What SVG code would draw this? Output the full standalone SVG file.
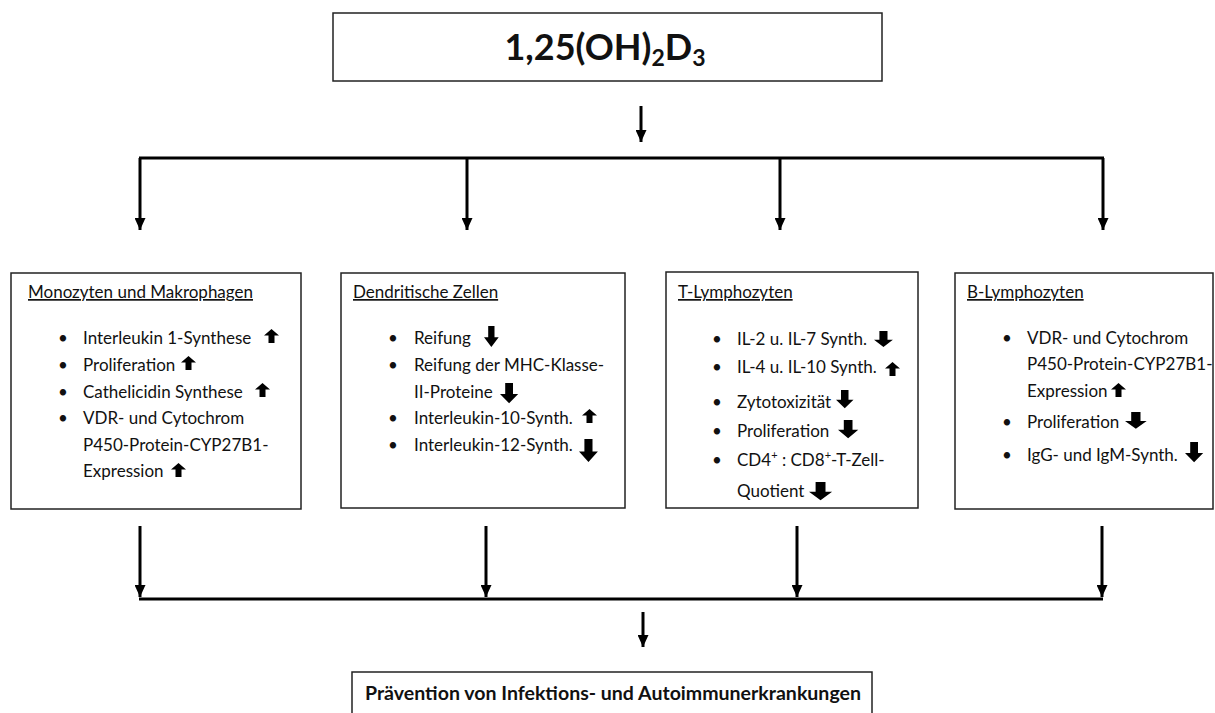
<svg xmlns="http://www.w3.org/2000/svg" width="1215" height="713" viewBox="0 0 1215 713">
<defs>
<style>
.box{fill:#fff;stroke:#222;stroke-width:1.5}
.t{font-family:Lato,"Liberation Sans",sans-serif;font-size:17px;fill:#111}
.h{text-decoration:underline}
.b{font-family:Lato,"Liberation Sans",sans-serif;font-weight:bold;fill:#111}
.c{stroke:#000;stroke-width:3;fill:none}
.i{fill:#000}
</style>
<marker id="ah" viewBox="0 0 12 11" refX="12" refY="5.5" markerWidth="12" markerHeight="11" markerUnits="userSpaceOnUse" orient="auto"><path d="M0,0 L12,5.5 L0,11 z" fill="#000"/></marker>
<path id="up" d="M7.5,0 L15,6.5 L10.5,6.5 L10.5,14 L4.5,14 L4.5,6.5 L0,6.5 Z"/>
<path id="dn" d="M4,0 L10,0 L10,7.5 L14,7.5 L7,14 L0,7.5 L4,7.5 Z"/>
</defs>
<rect width="1215" height="713" fill="#fff"/>

<g id="top">
<rect class="box" x="333" y="13" width="549" height="68"/>
<text class="b" x="605" y="60" font-size="36" text-anchor="middle">1,25(OH)<tspan font-size="23" dy="6">2</tspan><tspan dy="-6">D</tspan><tspan font-size="23" dy="6">3</tspan></text>
</g>

<g id="connectors">
<line class="c" x1="641" y1="106" x2="641" y2="142" marker-end="url(#ah)"/>
<line class="c" x1="139" y1="158" x2="1104" y2="158"/>
<line class="c" x1="140" y1="158" x2="140" y2="230" marker-end="url(#ah)"/>
<line class="c" x1="467" y1="158" x2="467" y2="230" marker-end="url(#ah)"/>
<line class="c" x1="780" y1="158" x2="780" y2="230" marker-end="url(#ah)"/>
<line class="c" x1="1103" y1="158" x2="1103" y2="230" marker-end="url(#ah)"/>
<line class="c" x1="140" y1="526" x2="140" y2="597" marker-end="url(#ah)"/>
<line class="c" x1="486" y1="526" x2="486" y2="597" marker-end="url(#ah)"/>
<line class="c" x1="797" y1="526" x2="797" y2="597" marker-end="url(#ah)"/>
<line class="c" x1="1102" y1="526" x2="1102" y2="597" marker-end="url(#ah)"/>
<line class="c" x1="139" y1="599" x2="1103" y2="599"/>
<line class="c" x1="643" y1="612" x2="643" y2="647" marker-end="url(#ah)"/>
</g>

<g id="monozyten">
<rect class="box" x="11" y="273" width="290" height="236"/>
<text class="t h" x="28" y="298">Monozyten und Makrophagen</text>
<g class="t">
<text x="58" y="344">•</text><text x="83" y="344">Interleukin 1-Synthese</text>
<text x="58" y="371">•</text><text x="83" y="371">Proliferation</text>
<text x="58" y="398">•</text><text x="83" y="398">Cathelicidin Synthese</text>
<text x="58" y="424">•</text><text x="83" y="424">VDR- und Cytochrom</text>
<text x="83" y="451">P450-Protein-CYP27B1-</text>
<text x="83" y="477">Expression</text>
</g>
<use href="#up" class="i" transform="translate(264,329)"/>
<use href="#up" class="i" transform="translate(181,356)"/>
<use href="#up" class="i" transform="translate(255,383)"/>
<use href="#up" class="i" transform="translate(171,463)"/>
</g>

<g id="dendritische">
<rect class="box" x="341" y="273" width="284" height="235"/>
<text class="t h" x="353" y="298">Dendritische Zellen</text>
<g class="t">
<text x="388" y="344">•</text><text x="414" y="344">Reifung</text>
<text x="388" y="371">•</text><text x="414" y="371">Reifung der MHC-Klasse-</text>
<text x="414" y="398">II-Proteine</text>
<text x="388" y="424">•</text><text x="414" y="424">Interleukin-10-Synth.</text>
<text x="388" y="451">•</text><text x="414" y="451">Interleukin-12-Synth.</text>
</g>
<use href="#dn" class="i" transform="translate(484,326) scale(1.05,1.5)"/>
<use href="#dn" class="i" transform="translate(500,383) scale(1.3,1.45)"/>
<use href="#up" class="i" transform="translate(582,409)"/>
<use href="#dn" class="i" transform="translate(579,439) scale(1.35,1.65)"/>
</g>

<g id="tlymph">
<rect class="box" x="666" y="272" width="252" height="236"/>
<text class="t h" x="678" y="298">T-Lymphozyten</text>
<g class="t">
<text x="712" y="345">•</text><text x="737" y="345">IL-2 u. IL-7 Synth.</text>
<text x="712" y="373">•</text><text x="737" y="373">IL-4 u. IL-10 Synth.</text>
<text x="712" y="408">•</text><text x="737" y="408">Zytotoxizität</text>
<text x="712" y="437">•</text><text x="737" y="437">Proliferation</text>
<text x="712" y="466">•</text><text x="737" y="466">CD4<tspan font-size="11" dy="-7">+</tspan><tspan dy="7"> : CD8</tspan><tspan font-size="11" dy="-7">+</tspan><tspan dy="7">-T-Zell-</tspan></text>
<text x="737" y="497">Quotient</text>
</g>
<use href="#dn" class="i" transform="translate(874,331) scale(1.35,1.15)"/>
<use href="#up" class="i" transform="translate(885,362)"/>
<use href="#dn" class="i" transform="translate(836,390) scale(1.25,1.3)"/>
<use href="#dn" class="i" transform="translate(838,420) scale(1.45,1.3)"/>
<use href="#dn" class="i" transform="translate(809,482) scale(1.65,1.3)"/>
</g>

<g id="blymph">
<rect class="box" x="955" y="273" width="258" height="236"/>
<text class="t h" x="967" y="298">B-Lymphozyten</text>
<g class="t">
<text x="1002" y="344">•</text><text x="1027" y="344">VDR- und Cytochrom</text>
<text x="1027" y="370">P450-Protein-CYP27B1-</text>
<text x="1027" y="397">Expression</text>
<text x="1002" y="428">•</text><text x="1027" y="428">Proliferation</text>
<text x="1002" y="461">•</text><text x="1027" y="461">IgG- und IgM-Synth.</text>
</g>
<use href="#up" class="i" transform="translate(1111,383)"/>
<use href="#dn" class="i" transform="translate(1125,412) scale(1.55,1.2)"/>
<use href="#dn" class="i" transform="translate(1185,442) scale(1.3,1.45)"/>
</g>

<g id="praevention">
<rect class="box" x="352" y="672" width="520" height="55"/>
<text class="b" x="365" y="700" font-size="19" textLength="496" lengthAdjust="spacingAndGlyphs">Prävention von Infektions- und Autoimmunerkrankungen</text>
</g>
</svg>
